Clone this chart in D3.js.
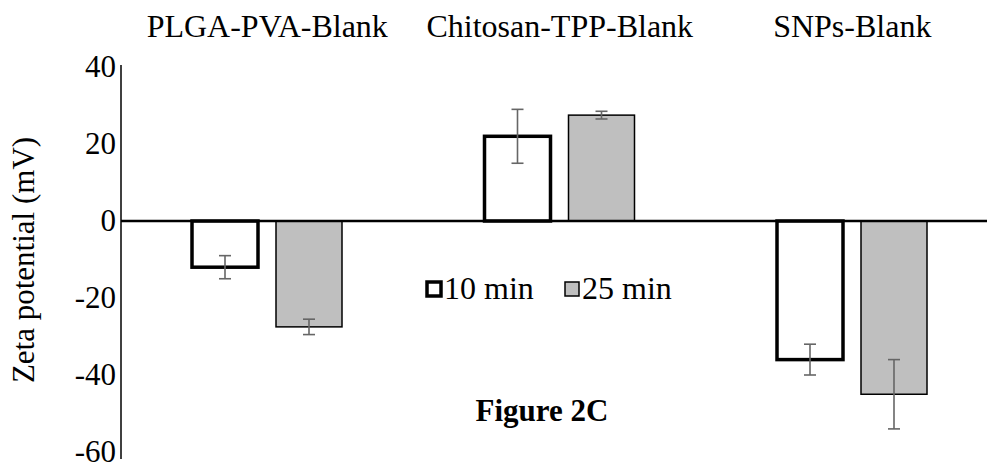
<!DOCTYPE html>
<html><head><meta charset="utf-8">
<script src="https://cdn.jsdelivr.net/npm/d3@7"></script>
<style>body{margin:0;background:#fff}svg{display:block}</style>
</head><body><svg id="c" width="987" height="470"></svg>
<script>
const categories = ["PLGA-PVA-Blank", "Chitosan-TPP-Blank", "SNPs-Blank"];
const seriesNames = ["10 min", "25 min"];
const values10 = [-12, 22, -36];
const errors10 = [3, 7, 4];
const values25 = [-27.5, 27.5, -45];
const errors25 = [2, 1, 9];
const yTicks = [40, 20, 0, -20, -40, -60];

const FONT = "'Liberation Serif', Tinos, 'Times New Roman', Times, 'Nimbus Roman', 'DejaVu Serif', serif";
const svg = d3.select("#c").attr("font-family", FONT);
const W = 987, H = 470;
const axisX = 121;
const y = d3.scaleLinear().domain([-60, 40]).range([452, 67]);
const x = d3.scaleBand().domain(categories).range([axisX, axisX + 3 * 292.5]).padding(0);
const xs = d3.scaleBand().domain(seriesNames).range([71, 221]).paddingInner(18 / 84).paddingOuter(0);

const data = [];
categories.forEach((c, i) => {
  data.push({cat: c, s: "10 min", v: values10[i], e: errors10[i]});
  data.push({cat: c, s: "25 min", v: values25[i], e: errors25[i]});
});

// bars
svg.append("g").selectAll("rect").data(data).join("rect")
  .attr("x", d => x(d.cat) + xs(d.s))
  .attr("y", d => y(Math.max(0, d.v)))
  .attr("width", xs.bandwidth())
  .attr("height", d => Math.abs(y(d.v) - y(0)))
  .attr("fill", d => d.s === "10 min" ? "#fff" : "#bfbfbf")
  .attr("stroke", "#000")
  .attr("stroke-width", d => d.s === "10 min" ? 3.5 : 1.5);

// zero line
svg.append("line").attr("x1", axisX).attr("x2", W).attr("y1", y(0)).attr("y2", y(0))
  .attr("stroke", "#000").attr("stroke-width", 2.5);

// error bars
const eg = svg.append("g").attr("stroke", "#666").attr("stroke-width", 1.6);
data.forEach(d => {
  const cx = x(d.cat) + xs(d.s) + xs.bandwidth() / 2;
  eg.append("line").attr("x1", cx).attr("x2", cx).attr("y1", y(d.v + d.e)).attr("y2", y(d.v - d.e));
  eg.append("line").attr("x1", cx - 6).attr("x2", cx + 6).attr("y1", y(d.v + d.e)).attr("y2", y(d.v + d.e));
  eg.append("line").attr("x1", cx - 6).attr("x2", cx + 6).attr("y1", y(d.v - d.e)).attr("y2", y(d.v - d.e));
});

// y axis
const ax = svg.append("g").attr("transform", `translate(${axisX},0)`)
  .call(d3.axisLeft(y).tickValues(yTicks).tickSize(0).tickPadding(5).tickFormat(d => String(d)));
ax.attr("font-family", FONT);
ax.select(".domain").attr("stroke", "#000").attr("stroke-width", 1.5).attr("d", `M0,${65}V${459}`);
ax.selectAll("text").attr("font-size", 31).attr("fill", "#000");

// axis title
svg.append("text").attr("transform", `translate(34,260) rotate(-90)`)
  .attr("text-anchor", "middle").attr("font-size", 31).text("Zeta potential (mV)");

// category labels
svg.append("g").selectAll("text").data(categories).join("text")
  .attr("x", d => x(d) + x.bandwidth() / 2).attr("y", 37)
  .attr("text-anchor", "middle").attr("font-size", 32).text(d => d);

// legend
const lg = svg.append("g").attr("transform", "translate(425,289)");
const legItems = [{s: "10 min", dx: 0, tx: 19}, {s: "25 min", dx: 138, tx: 19}];
legItems.forEach(it => {
  const g = lg.append("g").attr("transform", `translate(${it.dx},0)`);
  const is10 = it.s === seriesNames[0];
  g.append("rect").attr("x", 2).attr("y", -7).attr("width", 14).attr("height", 14)
    .attr("fill", is10 ? "#fff" : "#bfbfbf").attr("stroke", "#000").attr("stroke-width", is10 ? 3.5 : 1.5);
  g.append("text").attr("x", it.tx).attr("y", 10).attr("font-size", 32).text(it.s);
});

// figure label
svg.append("text").attr("x", 542).attr("y", 421).attr("text-anchor", "middle")
  .attr("font-size", 31).attr("font-weight", "bold").text("Figure 2C");
</script></body></html>
